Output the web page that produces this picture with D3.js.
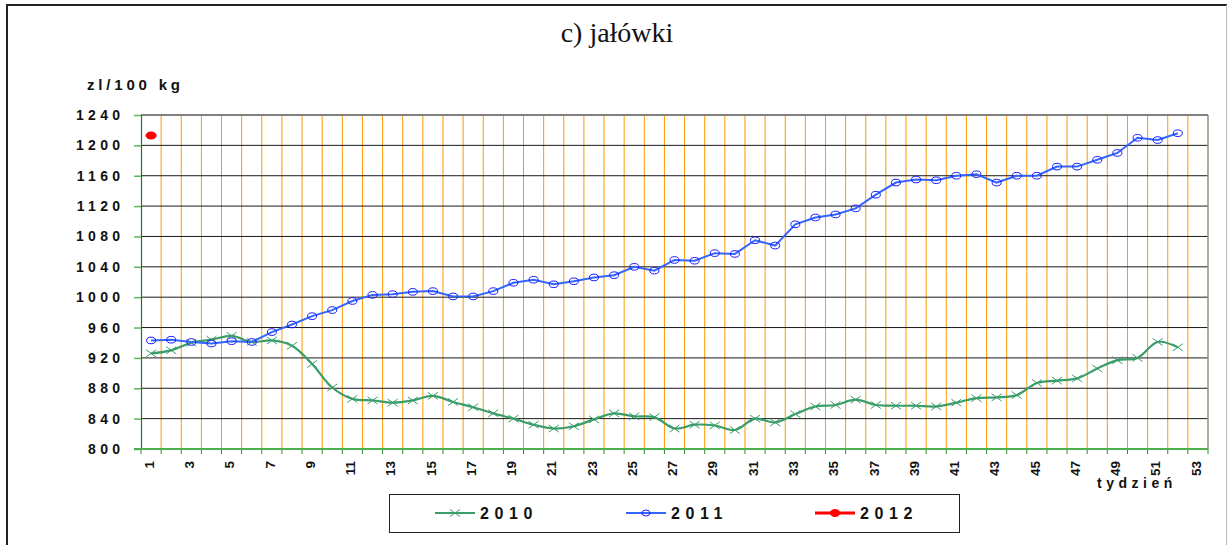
<!DOCTYPE html>
<html>
<head>
<meta charset="utf-8">
<script src="https://cdn.jsdelivr.net/npm/d3@7"></script>
<style>
  body { margin: 0; background: #fff; }
  svg { display: block; }
</style>
</head>
<body>
<script>
// Weekly prices of heifers (zł/100 kg), weeks 1–53
const weeks = d3.range(1, 54);
const tickWeeks = weeks.filter(w => w % 2 === 1);
const yTicks = d3.range(800, 1241, 40);
const seriesNames = ["2010", "2011", "2012"];

const prices2010 = [926, 930, 940, 944, 949, 941, 943, 936, 912, 881,
                    866, 864, 861, 864, 870, 862, 855, 847, 840, 832,
                    827, 830, 839, 847, 843, 842, 827, 832, 831, 825,
                    840, 835, 846, 856, 858, 865, 858, 857, 857, 856,
                    861, 867, 868, 871, 887, 890, 893, 906, 917, 920,
                    941, 934];
const prices2011 = [943, 944, 941, 939, 942, 941, 954, 964, 975, 983,
                    995, 1003, 1004, 1007, 1008, 1001, 1001, 1008, 1019, 1023,
                    1017, 1021, 1026, 1029, 1040, 1035, 1049, 1048, 1058, 1057,
                    1075, 1068, 1096, 1105, 1109, 1117, 1135, 1151, 1155, 1154,
                    1160, 1162, 1151, 1160, 1160, 1172, 1172, 1181, 1190, 1210,
                    1207, 1216];
const prices2012 = [1213];

const W = 1229, H = 545;
const plot = { left: 141, right: 1208, top: 115, bottom: 449 };

const svg = d3.select("body").append("svg")
  .attr("width", W).attr("height", H);

const sans = "'Liberation Sans', Arial, sans-serif";
const serif = "'Liberation Serif', 'Times New Roman', serif";

// outer frame
svg.append("line").attr("x1", 7).attr("y1", 5).attr("x2", 1227).attr("y2", 5)
  .attr("stroke", "#222").attr("stroke-width", 2);
svg.append("line").attr("x1", 7).attr("y1", 4).attr("x2", 7).attr("y2", H)
  .attr("stroke", "#222").attr("stroke-width", 2);
svg.append("line").attr("x1", 1226.5).attr("y1", 5).attr("x2", 1226.5).attr("y2", H)
  .attr("stroke", "#bbb").attr("stroke-width", 1);

// title
svg.append("text")
  .attr("x", 617).attr("y", 42)
  .attr("text-anchor", "middle")
  .attr("font-family", serif).attr("font-size", 28)
  .attr("fill", "#111")
  .text("c) jałówki");

const x = d3.scaleBand().domain(weeks).range([plot.left, plot.right]).padding(0);
const bw = x.bandwidth();
const cx = w => x(w) + bw / 2;
const y = d3.scaleLinear().domain([800, 1240]).range([plot.bottom, plot.top]);

// vertical week grid
const g = svg.append("g");
g.selectAll("line.vgrid").data(weeks.slice(1)).join("line")
  .attr("class", "vgrid")
  .attr("x1", d => x(d)).attr("x2", d => x(d))
  .attr("y1", plot.top).attr("y2", plot.bottom)
  .attr("stroke", "#FF9900").attr("stroke-width", 1);

// horizontal grid
g.selectAll("line.hgrid").data(yTicks.slice(1, -1)).join("line")
  .attr("class", "hgrid")
  .attr("x1", plot.left).attr("x2", plot.right)
  .attr("y1", d => y(d)).attr("y2", d => y(d))
  .attr("stroke", "#1a1a1a").attr("stroke-width", 1);

// plot border
g.append("line").attr("x1", plot.left).attr("x2", plot.right)
  .attr("y1", plot.top).attr("y2", plot.top)
  .attr("stroke", "#808080").attr("stroke-width", 2);
g.append("line").attr("x1", plot.right).attr("x2", plot.right)
  .attr("y1", plot.top).attr("y2", plot.bottom)
  .attr("stroke", "#9a8a7a").attr("stroke-width", 1.5);

// y axis
const yAxis = svg.append("g")
  .attr("transform", `translate(${plot.left},0)`)
  .call(d3.axisLeft(y).tickValues(yTicks).tickSize(7).tickPadding(10).tickFormat(d3.format("d")));
yAxis.select(".domain").attr("stroke", "#1d7a1d").attr("stroke-width", 1.2);
yAxis.selectAll(".tick line").attr("stroke", "#5cb85c").attr("stroke-width", 1.5);
yAxis.selectAll(".tick text")
  .attr("font-family", sans).attr("font-size", 14).attr("font-weight", "bold")
  .attr("letter-spacing", 4.3).attr("fill", "#111")
  .attr("x", -16.7);

// x axis
const xAxis = svg.append("g")
  .attr("transform", `translate(0,${plot.bottom})`)
  .call(d3.axisBottom(x).tickValues(tickWeeks).tickSize(0).tickPadding(0));
xAxis.select(".domain").remove();
xAxis.selectAll(".tick text")
  .attr("font-family", sans).attr("font-size", 13.5).attr("font-weight", "bold")
  .attr("fill", "#111")
  .attr("text-anchor", "end")
  .attr("transform", "rotate(-90)")
  .attr("x", -12).attr("y", -2).attr("dy", "0.35em");
// small ticks at week boundaries
svg.append("g").selectAll("line").data(weeks.concat([54])).join("line")
  .attr("x1", d => d === 54 ? plot.right : x(d)).attr("x2", d => d === 54 ? plot.right : x(d))
  .attr("y1", plot.bottom).attr("y2", plot.bottom + 5)
  .attr("stroke", "#2e8b2e").attr("stroke-width", 1);
svg.append("line").attr("x1", plot.left - 7).attr("x2", plot.right)
  .attr("y1", plot.bottom).attr("y2", plot.bottom)
  .attr("stroke", "#4cae4c").attr("stroke-width", 2);

// axis titles
svg.append("text").attr("x", 87).attr("y", 90)
  .attr("font-family", sans).attr("font-size", 15).attr("font-weight", "bold")
  .attr("letter-spacing", 3.8).attr("fill", "#111")
  .text("zl/100 kg");
svg.append("text").attr("x", 1097).attr("y", 488)
  .attr("font-family", sans).attr("font-size", 14).attr("font-weight", "bold")
  .attr("letter-spacing", 4.5).attr("fill", "#111")
  .text("tydzień");

// series
const colors = { s2010: "#3a9d69", s2011: "#3366ff", mark2011: "#1a1aff", s2012: "#ff0000" };
const data2010 = prices2010.map((v, i) => ({ w: weeks[i], v }));
const data2011 = prices2011.map((v, i) => ({ w: weeks[i], v }));
const data2012 = prices2012.map((v, i) => ({ w: weeks[i], v }));

svg.append("path").datum(data2010)
  .attr("fill", "none").attr("stroke", colors.s2010).attr("stroke-width", 2.2)
  .attr("d", d3.line().x(d => cx(d.w)).y(d => y(d.v)).curve(d3.curveCatmullRom.alpha(0.5)));

const crossPath = (px, py, hw, hh) =>
  `M${px - hw},${py - hh}L${px + hw},${py + hh}M${px - hw},${py + hh}L${px + hw},${py - hh}`;
svg.append("g").selectAll("path").data(data2010).join("path")
  .attr("d", d => crossPath(cx(d.w), y(d.v), 5, 3.6))
  .attr("stroke", colors.s2010).attr("stroke-width", 1).attr("fill", "none");

svg.append("path").datum(data2011)
  .attr("fill", "none").attr("stroke", colors.s2011).attr("stroke-width", 2)
  .attr("d", d3.line().x(d => cx(d.w)).y(d => y(d.v)));
svg.append("g").selectAll("ellipse").data(data2011).join("ellipse")
  .attr("cx", d => cx(d.w)).attr("cy", d => y(d.v))
  .attr("rx", 4.5).attr("ry", 3.3)
  .attr("fill", "none").attr("stroke", colors.mark2011).attr("stroke-width", 1);

svg.append("g").selectAll("ellipse").data(data2012).join("ellipse")
  .attr("cx", d => cx(d.w)).attr("cy", d => y(d.v))
  .attr("rx", 5.5).attr("ry", 4)
  .attr("fill", colors.s2012);

// legend
const legend = svg.append("g");
legend.append("rect").attr("x", 389.5).attr("y", 494.5).attr("width", 570).attr("height", 38)
  .attr("fill", "#fff").attr("stroke", "#222").attr("stroke-width", 1);
const ly = 513;
const legendItems = [
  { name: seriesNames[0], x0: 435, color: colors.s2010, kind: "cross" },
  { name: seriesNames[1], x0: 626, color: colors.s2011, kind: "ring" },
  { name: seriesNames[2], x0: 815, color: colors.s2012, kind: "dot" }
];
legendItems.forEach(it => {
  legend.append("line").attr("x1", it.x0).attr("x2", it.x0 + 40)
    .attr("y1", ly).attr("y2", ly)
    .attr("stroke", it.color).attr("stroke-width", it.kind === "dot" ? 3 : 2);
  const mx = it.x0 + 20;
  if (it.kind === "cross") {
    legend.append("path").attr("d", crossPath(mx, ly, 5, 3.6))
      .attr("stroke", it.color).attr("stroke-width", 1).attr("fill", "none");
  } else if (it.kind === "ring") {
    legend.append("ellipse").attr("cx", mx).attr("cy", ly).attr("rx", 4).attr("ry", 3)
      .attr("fill", "none").attr("stroke", colors.mark2011).attr("stroke-width", 1);
  } else {
    legend.append("ellipse").attr("cx", mx).attr("cy", ly).attr("rx", 5).attr("ry", 4)
      .attr("fill", it.color);
  }
  legend.append("text").attr("x", it.x0 + 45).attr("y", ly).attr("dy", "0.36em")
    .attr("font-family", sans).attr("font-size", 16).attr("font-weight", "bold")
    .attr("letter-spacing", 5.6).attr("fill", "#111")
    .text(it.name);
});
</script>
</body>
</html>
